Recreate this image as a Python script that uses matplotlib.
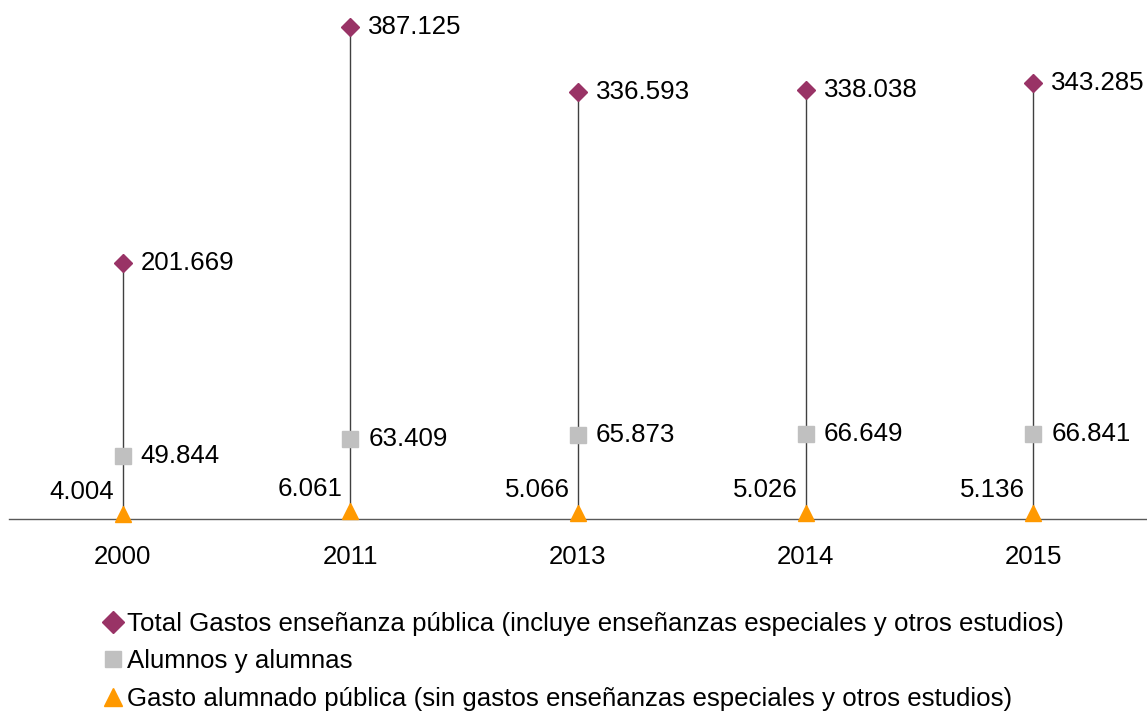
import matplotlib
matplotlib.use('Agg')
import matplotlib.pyplot as plt
from matplotlib.lines import Line2D

plt.rcParams['font.family'] = ['Liberation Sans', 'DejaVu Sans']

years = ['2000', '2011', '2013', '2014', '2015']
total_gastos = [201.669, 387.125, 336.593, 338.038, 343.285]
alumnos = [49.844, 63.409, 65.873, 66.649, 66.841]
gasto_alumnado = [4.004, 6.061, 5.066, 5.026, 5.136]

labels = [
    'Total Gastos enseñanza pública (incluye enseñanzas especiales y otros estudios)',
    'Alumnos y alumnas',
    'Gasto alumnado pública (sin gastos enseñanzas especiales y otros estudios)',
]
colors = ['#993366', '#C0C0C0', '#FF9900']
FS = 18.6


def fmt(v):
    # thousands separator style of the source: 201.669
    return f'{v:.3f}'


fig = plt.figure(figsize=(11.47, 7.13), dpi=100)
ax = fig.add_axes([0.0078, 0.272, 0.9922, 0.7126])

x = list(range(len(years)))

# high-low lines
for i in x:
    lo = min(total_gastos[i], alumnos[i], gasto_alumnado[i])
    hi = max(total_gastos[i], alumnos[i], gasto_alumnado[i])
    ax.plot([i, i], [lo, hi], color='#404040', lw=1, zorder=1)

ax.plot(x, total_gastos, ls='none', marker='D', ms=9.5, color=colors[0],
        zorder=3, clip_on=False)
ax.plot(x, alumnos, ls='none', marker='s', ms=11, color=colors[1],
        zorder=3, clip_on=False)
ax.plot(x, gasto_alumnado, ls='none', marker='^', ms=12, color=colors[2],
        zorder=3, clip_on=False)

for i in x:
    ax.annotate(fmt(total_gastos[i]), (i, total_gastos[i]), xytext=(13, 0),
                textcoords='offset points', ha='left', va='center', fontsize=FS)
    ax.annotate(fmt(alumnos[i]), (i, alumnos[i]), xytext=(13, 0),
                textcoords='offset points', ha='left', va='center', fontsize=FS)
    ax.annotate(fmt(gasto_alumnado[i]), (i, gasto_alumnado[i]), xytext=(-6, 16),
                textcoords='offset points', ha='right', va='center', fontsize=FS)

ax.set_xlim(-0.5, len(years) - 0.5)
ax.set_ylim(0, 400)
ax.set_xticks(x)
ax.set_xticklabels(years, fontsize=FS)
ax.set_yticks([])
ax.tick_params(axis='x', length=0, pad=19)
for s in ['top', 'right', 'left']:
    ax.spines[s].set_visible(False)
ax.spines['bottom'].set_color('#595959')
ax.spines['bottom'].set_linewidth(1)

handles = [
    Line2D([], [], ls='none', marker='D', ms=11, color=colors[0]),
    Line2D([], [], ls='none', marker='s', ms=12, color=colors[1]),
    Line2D([], [], ls='none', marker='^', ms=13, color=colors[2]),
]
fig.legend(handles, labels, loc='upper left', bbox_to_anchor=(0.091, 0.142),
           frameon=False, fontsize=FS, handlelength=0.65, handletextpad=0.22,
           labelspacing=0.52, borderpad=0, borderaxespad=0)

fig.savefig('out.png', dpi=100)
